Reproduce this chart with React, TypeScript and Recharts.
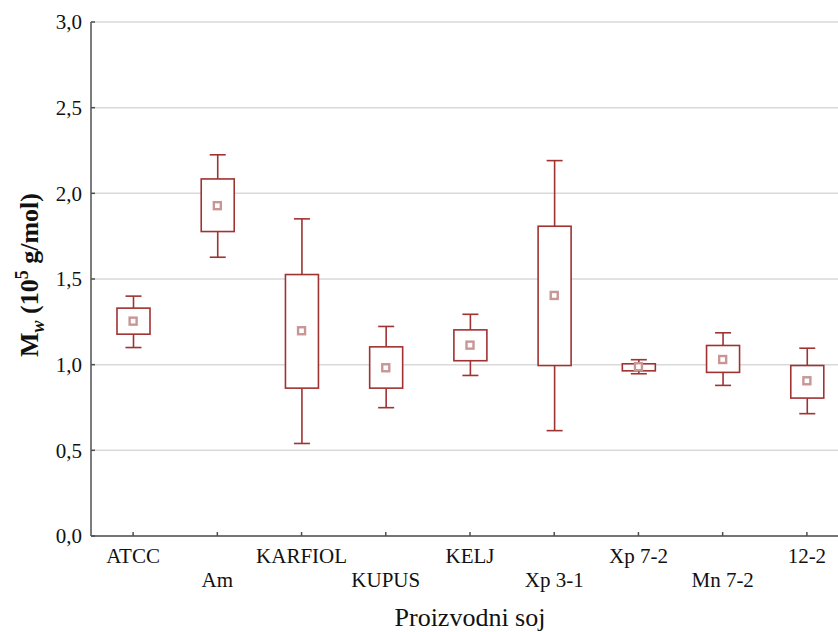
import { Bar, CartesianGrid, ComposedChart, Line, XAxis, YAxis } from 'recharts'

const categories = ['ATCC', 'Am', 'KARFIOL', 'KUPUS', 'KELJ', 'Xp 3-1', 'Xp 7-2', 'Mn 7-2', '12-2']
const whiskerLow = [1.1, 1.627, 0.54, 0.749, 0.937, 0.615, 0.947, 0.879, 0.714]
const boxLow = [1.178, 1.777, 0.863, 0.863, 1.023, 0.995, 0.964, 0.955, 0.805]
const meanValues = [1.254, 1.928, 1.198, 0.982, 1.114, 1.404, 0.988, 1.03, 0.906]
const boxHigh = [1.33, 2.084, 1.526, 1.104, 1.203, 1.808, 1.005, 1.112, 0.995]
const whiskerHigh = [1.4, 2.225, 1.851, 1.223, 1.294, 2.191, 1.029, 1.186, 1.096]
const yTicks = [0, 0.5, 1, 1.5, 2, 2.5, 3]

const data = categories.map((name, i) => ({
  name,
  base: whiskerLow[i],
  lower: boxLow[i] - whiskerLow[i],
  box: boxHigh[i] - boxLow[i],
  upper: whiskerHigh[i] - boxHigh[i],
  mean: meanValues[i],
}))

const FONT = '"Liberation Serif", "Times New Roman", serif'
const RED = '#a03232'
const FRAME = '#505050'
const CAP = 8

const LowerWhisker = (p: any) => {
  const cx = p.x + p.width / 2
  const bottom = p.y + p.height
  return (
    <g stroke={RED} strokeWidth={1.6}>
      <line x1={cx} x2={cx} y1={p.y} y2={bottom} />
      <line x1={cx - CAP} x2={cx + CAP} y1={bottom} y2={bottom} />
    </g>
  )
}

const UpperWhisker = (p: any) => {
  const cx = p.x + p.width / 2
  return (
    <g stroke={RED} strokeWidth={1.6}>
      <line x1={cx} x2={cx} y1={p.y} y2={p.y + p.height} />
      <line x1={cx - CAP} x2={cx + CAP} y1={p.y} y2={p.y} />
    </g>
  )
}

const BoxShape = (p: any) => (
  <rect x={p.x} y={p.y} width={p.width} height={p.height} fill="#fff" stroke={RED} strokeWidth={1.6} />
)

const MeanDot = (p: any) => {
  if (p.cx == null || p.cy == null) return <g />
  return (
    <rect x={p.cx - 3.5} y={p.cy - 3.5} width={7} height={7} fill="#fff" stroke="#c99696" strokeWidth={2.4} />
  )
}

const BottomTick = (p: any) => {
  const row = p.index % 2 === 0 ? 27 : 51
  return (
    <g>
      <line x1={p.x} x2={p.x} y1={p.y} y2={p.y - 4} stroke={FRAME} strokeWidth={1.5} />
      <text x={p.x} y={p.y + row} textAnchor="middle" fontFamily={FONT} fontSize={21} fill="#111">
        {p.payload.value}
      </text>
    </g>
  )
}

const TopTick = (p: any) => (
  <line x1={p.x} x2={p.x} y1={p.y} y2={p.y + 4} stroke={FRAME} strokeWidth={1.5} />
)

const LeftTick = (p: any) => (
  <g>
    <line x1={p.x} x2={p.x + 4} y1={p.y} y2={p.y} stroke={FRAME} strokeWidth={1.5} />
    <text x={p.x - 9} y={p.y} dy="0.35em" textAnchor="end" fontFamily={FONT} fontSize={21} fill="#111">
      {Number(p.payload.value).toFixed(1).replace('.', ',')}
    </text>
  </g>
)

const YTitle = () => (
  <text
    x={38}
    y={275}
    transform="rotate(-90, 38, 275)"
    textAnchor="middle"
    fontFamily={FONT}
    fontSize={26}
    fontWeight="bold"
    fill="#111"
  >
    <tspan>M</tspan>
    <tspan fontSize={18} fontStyle="italic" dy={6}>w</tspan>
    <tspan dy={-6}> (10</tspan>
    <tspan fontSize={18} dy={-10}>5</tspan>
    <tspan dy={10}> g/mol)</tspan>
  </text>
)

const XTitle = () => (
  <text x={470} y={626} textAnchor="middle" fontFamily={FONT} fontSize={26} fill="#111">
    Proizvodni soj
  </text>
)

export default function App() {
  return (
    <div
      style={{
        position: 'absolute',
        left: 0,
        top: 0,
        width: 838,
        height: 632,
        overflow: 'hidden',
        background: '#fff',
      }}
    >
      <ComposedChart
        width={860}
        height={632}
        data={data}
        barSize={33}
        margin={{ top: 22, right: 11, bottom: 0, left: 0 }}
      >
        <CartesianGrid vertical={false} stroke="#d9d9d9" strokeWidth={1.5} />
        <XAxis
          dataKey="name"
          height={96}
          tickSize={0}
          tickMargin={0}
          tickLine={false}
          stroke={FRAME}
          strokeWidth={1.5}
          tick={<BottomTick />}
          interval={0}
          label={<XTitle />}
        />
        <XAxis
          xAxisId="top"
          dataKey="name"
          orientation="top"
          height={0}
          tickSize={0}
          tickMargin={0}
          tickLine={false}
          stroke={FRAME}
          strokeWidth={1.5}
          tick={<TopTick />}
          interval={0}
        />
        <YAxis
          type="number"
          domain={[0, 3]}
          ticks={yTicks}
          width={91}
          tickSize={0}
          tickMargin={0}
          tickLine={false}
          stroke={FRAME}
          strokeWidth={1.5}
          tick={<LeftTick />}
          interval={0}
          label={<YTitle />}
        />
        <Bar dataKey="base" stackId="b" shape={() => <g />} isAnimationActive={false} />
        <Bar dataKey="lower" stackId="b" shape={<LowerWhisker />} isAnimationActive={false} />
        <Bar dataKey="box" stackId="b" shape={<BoxShape />} isAnimationActive={false} />
        <Bar dataKey="upper" stackId="b" shape={<UpperWhisker />} isAnimationActive={false} />
        <Line
          dataKey="mean"
          stroke="none"
          dot={<MeanDot />}
          activeDot={false}
          legendType="none"
          isAnimationActive={false}
        />
      </ComposedChart>
    </div>
  )
}
